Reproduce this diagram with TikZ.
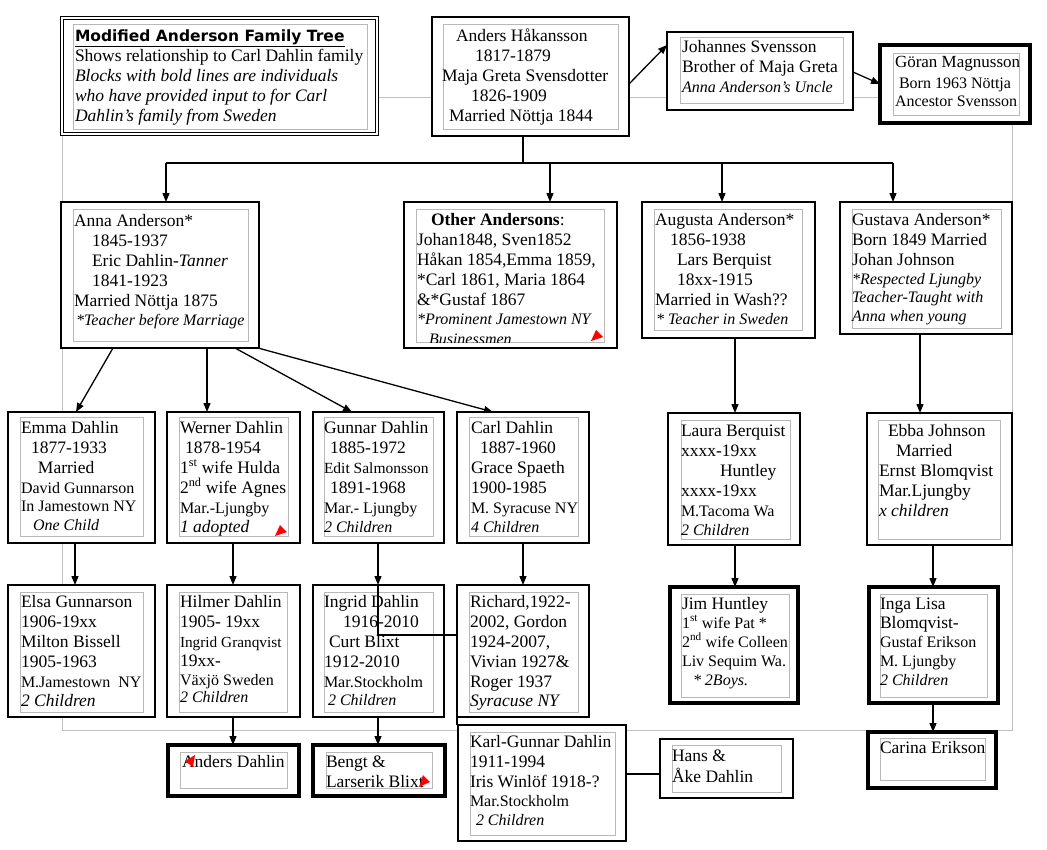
\documentclass[tikz,border=0pt]{standalone}
\usepackage{fontspec}
\setmainfont{Liberation Serif}
\newfontfamily\titlefont{DejaVu Sans}
\usetikzlibrary{arrows.meta}
\newcommand\smr{\fontsize{16}{20}\selectfont}
\newcommand\smi{\fontsize{16}{20}\selectfont\itshape}
\newcommand\bx[6]{\node[#6, minimum width={#4pt-#2pt}, minimum height={#5pt-#3pt}] (#1) at (#2,#3) {};}
\newcommand\ib[4]{\draw[innerbox] (#1,#2) rectangle (#3,#4);}
\newcommand\tx[3]{\node[txt] (#1) at (#2) {\rule{0pt}{16pt}#3};}
\tikzset{
 thinbox/.style={rectangle, draw=black, line width=1.3pt, fill=white, inner sep=0pt, outer sep=0pt, anchor=north west},
 thickbox/.style={thinbox, line width=4.8pt},
 dblbox/.style={thinbox, line width=1.2pt, double=white, double distance=2pt},
 innerbox/.style={draw=black!28, line width=0.9pt},
 txt/.style={anchor=north west, inner sep=0pt, outer sep=0pt, align=left, yshift=16pt, font=\fontsize{17.5}{20}\selectfont},
 link/.style={line width=1.3pt, draw=black},
 arr/.style={link, -{Triangle[length=9pt,width=7pt]}},
 flag/.style={fill=red, draw=none},
 frame/.style={draw=black!25, line width=1pt}
}
\begin{document}
\begin{tikzpicture}[x=1pt,y=-1pt]
\fill[white] (0,0) rectangle (1047,849);
\useasboundingbox (0,0) rectangle (1047,849);
% background frame
\draw[frame] (62,97) rectangle (1012,730);

% ---------- boxes ----------
\bx{title}{62}{18}{377}{134}{dblbox}
\ib{73}{24}{367}{129}
\bx{anders}{432}{17}{629}{136}{thinbox}
\ib{443}{24}{618}{129}
\bx{johannes}{667}{32}{853}{110}{thinbox}
\ib{680}{37}{843}{103}
\bx{goran}{880}{45}{1030}{123}{thickbox}
\ib{893}{53}{1019}{115}

\bx{anna}{61}{202}{259}{348}{thinbox}
\ib{73}{209}{248}{341}
\bx{other}{404}{202}{617}{348}{thinbox}
\ib{416}{209}{604}{342}
\bx{augusta}{642}{202}{815}{338}{thinbox}
\ib{654}{209}{802}{330}
\bx{gustava}{840}{202}{1012}{334}{thinbox}
\ib{852}{209}{1001}{328}

\bx{emma}{8}{412}{155}{543}{thinbox}
\ib{20}{417}{143}{536}
\bx{werner}{167}{412}{300}{543}{thinbox}
\ib{179}{417}{288}{536}
\bx{gunnar}{313}{412}{444}{543}{thinbox}
\ib{324}{417}{433}{536}
\bx{carl}{457}{412}{589}{543}{thinbox}
\ib{469}{417}{578}{536}
\bx{laura}{668}{413}{800}{545}{thinbox}
\ib{681}{420}{790}{539}
\bx{ebba}{867}{413}{1012}{545}{thinbox}
\ib{878}{420}{1000}{539}

\bx{elsa}{8}{585}{155}{717}{thinbox}
\ib{20}{592}{143}{712}
\bx{hilmer}{167}{585}{300}{717}{thinbox}
\ib{179}{592}{287}{712}
\bx{ingrid}{313}{585}{444}{717}{thinbox}
\ib{324}{592}{433}{712}
\bx{richard}{457}{585}{589}{717}{thinbox}
\ib{469}{592}{578}{712}
\bx{jim}{670}{587}{798}{703}{thickbox}
\ib{681}{594}{789}{697}
\bx{inga}{869}{587}{998}{703}{thickbox}
\ib{880}{594}{987}{697}

\bx{andersd}{168}{745}{299}{796}{thickbox}
\ib{180}{752}{287}{788}
\bx{bengt}{313}{745}{445}{796}{thickbox}
\ib{326}{752}{432}{788}
\bx{karl}{458}{725}{626}{841}{thinbox}
\ib{470}{732}{615}{835}
\bx{hans}{660}{739}{793}{798}{thinbox}
\ib{672}{745}{781}{792}
\bx{carina}{868}{732}{996}{788}{thickbox}
\ib{880}{738}{985}{780}

% ---------- texts ----------
\tx{title-t}{75,41}{{\titlefont\bfseries\fontsize{15.5}{20}\selectfont\underline{Modified Anderson Family Tree}}\\
Shows relationship to Carl Dahlin family\\
\itshape Blocks with bold lines are individuals\\
\itshape who have provided input to for Carl\\
\itshape Dahlin’s family from Sweden}

\tx{anders-t}{442,41}{\hspace*{14pt}Anders Håkansson\\
\hspace*{33pt}1817-1879\\
Maja Greta Svensdotter\\
\hspace*{29pt}1826-1909\\
\hspace*{7pt}Married Nöttja 1844}

\tx{johannes-t}{682,52}{Johannes Svensson\\
Brother of Maja Greta\\
\smi Anna Anderson’s Uncle}

\tx{goran-t}{895,67}{{\fontsize{17}{20}\selectfont Göran Magnusson}\\[1pt]
\smr\hspace*{4pt}Born 1963 Nöttja\\[-2pt]
\smr Ancestor Svensson}

\tx{anna-t}{74,226}{Anna Anderson*\\
\hspace*{18pt}1845-1937\\
\hspace*{18pt}Eric Dahlin-\textit{Tanner}\\
\hspace*{18pt}1841-1923\\
Married Nöttja 1875\\[-1pt]
\smi\hspace*{2pt}*Teacher before Marriage}

\begin{scope}
\clip (416,209) rectangle (604,342);
\tx{other-t}{417,225}{\hspace*{14pt}\textbf{Other Andersons}:\\
Johan1848, Sven1852\\
Håkan 1854,Emma 1859,\\
*Carl 1861, Maria 1864\\
\&*Gustaf 1867\\[-1pt]
\smi *Prominent Jamestown NY\\
\smi\hspace*{12pt}Businessmen}
\end{scope}

\tx{augusta-t}{655,225}{Augusta Anderson*\\
\hspace*{15pt}1856-1938\\
\hspace*{22pt}Lars Berquist\\
\hspace*{22pt}18xx-1915\\
Married in Wash??\\[-1pt]
\smi\hspace*{1pt}* Teacher in Sweden}

\tx{gustava-t}{852,225}{Gustava Anderson*\\
Born 1849 Married\\
Johan Johnson\\[-1pt]
\smi *Respected Ljungby\\[-2pt]
\smi Teacher-Taught with\\[-1pt]
\smi Anna when young}

\tx{emma-t}{21,433}{Emma Dahlin\\
\hspace*{10pt}1877-1933\\
\hspace*{17pt}Married\\
\smr David Gunnarson\\[-2pt]
\smr In Jamestown NY\\[-1pt]
\smi\hspace*{12pt}One Child}

\tx{werner-t}{180,433}{Werner Dahlin\\
\hspace*{5pt}1878-1954\\
1\textsuperscript{st} wife Hulda\\
2\textsuperscript{nd} wife Agnes\\
\smr Mar.-Ljungby\\[-1pt]
\itshape 1 adopted}

\tx{gunnar-t}{324,433}{Gunnar Dahlin\\
\hspace*{6pt}1885-1972\\
{\fontsize{15.5}{20}\selectfont Edit Salmonsson}\\
\hspace*{6pt}1891-1968\\
\smr Mar.- Ljungby\\[-1pt]
\smi 2 Children}

\tx{carl-t}{471,433}{Carl Dahlin\\
\hspace*{9pt}1887-1960\\
Grace Spaeth\\
1900-1985\\
\smr M. Syracuse NY\\[-1pt]
\smi 4 Children}

\tx{laura-t}{681,436}{Laura Berquist\\
xxxx-19xx\\
\hspace*{39pt}Huntley\\
xxxx-19xx\\
\smr M.Tacoma Wa\\[-1pt]
\smi 2 Children}

\tx{ebba-t}{879,436}{\hspace*{9pt}Ebba Johnson\\
\hspace*{17pt}Married\\
Ernst Blomqvist\\
Mar.Ljungby\\
\itshape x children}

\tx{elsa-t}{21,607}{Elsa Gunnarson\\
1906-19xx\\
Milton Bissell\\
1905-1963\\
\smr M.Jamestown\ \ NY\\[-1pt]
\itshape 2 Children}

\tx{hilmer-t}{180,607}{Hilmer Dahlin\\
1905- 19xx\\
{\fontsize{15.3}{20}\selectfont Ingrid Granqvist}\\[-1pt]
19xx-\\[-1pt]
\smr Växjö Sweden\\[-3pt]
\smi 2 Children}

\tx{ingrid-t}{324,607}{Ingrid Dahlin\\
\hspace*{19pt}1916-2010\\
\hspace*{5pt}Curt Blixt\\
1912-2010\\
\smr Mar.Stockholm\\[-2pt]
\smi\hspace*{4pt}2 Children}

\tx{richard-t}{470,607}{Richard,1922-\\
2002, Gordon\\
1924-2007,\\
Vivian 1927\&\\
Roger 1937\\[-1pt]
\itshape Syracuse NY}

\tx{jim-t}{682,609}{Jim Huntley\\[-1pt]
\smr 1\textsuperscript{st} wife Pat *\\[-1pt]
\smr 2\textsuperscript{nd} wife Colleen\\[-1pt]
\smr Liv Sequim Wa.\\[-1pt]
\smi\hspace*{11pt}* 2Boys.}

\tx{inga-t}{880,609}{Inga Lisa\\[-1pt]
Blomqvist-\\[-1pt]
\smr Gustaf Erikson\\[-1pt]
\smr M. Ljungby\\[-1pt]
\smi 2 Children}

\tx{andersd-t}{182,767}{Anders Dahlin}
\tx{bengt-t}{326,767}{Bengt \&\\
Larserik Blixt}
\tx{karl-t}{470,747}{Karl-Gunnar Dahlin\\
1911-1994\\
Iris Winlöf 1918-?\\[-1pt]
\smr Mar.Stockholm\\[-1pt]
\smi\hspace*{6pt}2 Children}
\tx{hans-t}{672,761}{Hans \&\\[1pt]
Åke Dahlin}
\tx{carina-t}{880,753}{Carina Erikson}

% ---------- red comment flags ----------
\fill[flag] (596,330) -- (603,337) -- (591,341) -- cycle;
\fill[flag] (280,525) -- (287,532) -- (275,536) -- cycle;
\fill[flag] (185,761) -- (195,755) -- (193,767) -- cycle;
\fill[flag] (423,775) -- (430,782) -- (419,787) -- cycle;

% ---------- connectors ----------
\coordinate (bus) at (523,163);
\coordinate (busL) at (166,163);
\coordinate (busR) at (893,163);
\draw[link] (523,0 |- anders.south) -- (bus);
\draw[link] (busL) -- (busR);
\draw[arr] (busL) -- (busL |- anna.north);
\draw[arr] (550,163) -- (550,0 |- other.north);
\draw[arr] (722,163) -- (722,0 |- augusta.north);
\draw[arr] (busR) -- (busR |- gustava.north);

\draw[arr] (anders.east |- 0,84) -- (johannes.west |- 0,45);
\draw[arr] (johannes.east |- 0,72) -- (goran.west |- 0,84);

\draw[arr] (113,0 |- anna.south) -- (76,0 |- emma.north);
\draw[arr] (207,0 |- anna.south) -- (207,0 |- werner.north);
\draw[arr] (235,0 |- anna.south) -- (352,0 |- gunnar.north);
\draw[arr] (258,0 |- anna.south) -- (493,0 |- carl.north);
\draw[arr] (735,0 |- augusta.south) -- (735,0 |- laura.north);
\draw[arr] (920,0 |- gustava.south) -- (920,0 |- ebba.north);

\draw[arr] (75,0 |- emma.south) -- (75,0 |- elsa.north);
\draw[arr] (233,0 |- werner.south) -- (233,0 |- hilmer.north);
\draw[arr] (378,0 |- gunnar.south) -- (378,0 |- ingrid.north);
\draw[arr] (523,0 |- carl.south) -- (523,0 |- richard.north);
\draw[arr] (735,0 |- laura.south) -- (735,0 |- jim.north);
\draw[arr] (933,0 |- ebba.south) -- (933,0 |- inga.north);

\draw[arr] (233,0 |- hilmer.south) -- (233,0 |- andersd.north);
\draw[arr] (378,0 |- ingrid.south) -- (378,0 |- bengt.north);
\draw[arr] (933,0 |- inga.south) -- (933,0 |- carina.north);

\draw[link] (378,0 |- ingrid.north) -- (378,635) -- (457,635) -- (457,0 |- karl.north);
\draw[link] (karl.east |- 0,774) -- (hans.west |- 0,774);
\end{tikzpicture}
\end{document}
